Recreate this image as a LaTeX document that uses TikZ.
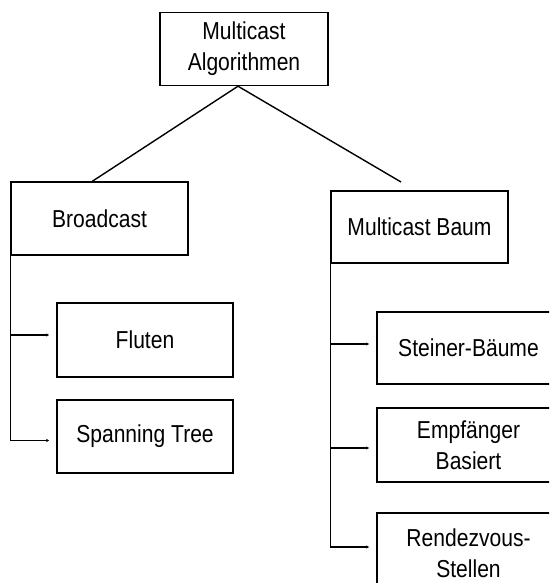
\documentclass[tikz,border=0pt]{standalone}
\usepackage{fontspec}
\setmainfont[FakeStretch=0.86]{Liberation Sans}
\usetikzlibrary{arrows.meta,calc}
\begin{document}
\begin{tikzpicture}[x=1pt,y=-1pt,
  box/.style={draw,line width=1.4pt,inner sep=0pt,align=center,
    font=\fontsize{24.5}{31}\selectfont},
  conn/.style={line width=1.4pt},
  arr/.style={line width=1.4pt,-{Latex[length=3pt,width=3.5pt]}}]
\useasboundingbox (0,0) rectangle (549,583);
\clip (0,0) rectangle (549,583);
\fill[white] (0,0) rectangle (549,583);
\node[box,minimum width=168pt,minimum height=73pt] (top) at (244,49) {Multicast\\Algorithmen};
\node[box,minimum width=177pt,minimum height=73pt] (bc) at (99.5,218.5) {Broadcast};
\node[box,minimum width=176pt,minimum height=74pt] (fl) at (145,340) {Fluten};
\node[box,minimum width=176pt,minimum height=73pt] (sp) at (145,436.5) {Spanning Tree};
\node[box,minimum width=177pt,minimum height=72pt] (mb) at (419.5,227) {Multicast Baum};
\node[box,minimum width=183pt,minimum height=72pt] (sb) at (468.5,348) {Steiner-Bäume};
\node[box,minimum width=183pt,minimum height=74pt] (eb) at (468.5,445) {Empfänger\\Basiert};
\node[box,minimum width=183pt,minimum height=80pt] (rs) at (468.5,553) {Rendezvous-\\Stellen};
\coordinate (mbtip) at (401,182);
\draw[conn] ($(top.south)+(-6,0)$) -- ($(bc.north west)+(82,0)$);
\draw[conn] ($(top.south)+(-6,0)$) -- (mbtip);
\draw[conn] (bc.south west) -- ($(bc.south west |- sp.west)+(0,4)$);
\draw[arr] ($(bc.south west |- fl.west)+(0,-5)$) -- ($(fl.west)+(-7,-5)$);
\draw[arr] ($(bc.south west |- sp.west)+(0,4)$) -- ($(sp.west)+(-7,4)$);
\draw[conn] (mb.south west) -- ($(mb.south west |- rs.west)+(0,-6)$);
\draw[arr] ($(mb.south west |- sb.west)+(0,-4)$) -- ($(sb.west)+(-7,-4)$);
\draw[arr] ($(mb.south west |- eb.west)+(0,3)$) -- ($(eb.west)+(-7,3)$);
\draw[arr] ($(mb.south west |- rs.west)+(0,-6)$) -- ($(rs.west)+(-7,-6)$);
\end{tikzpicture}
\end{document}
